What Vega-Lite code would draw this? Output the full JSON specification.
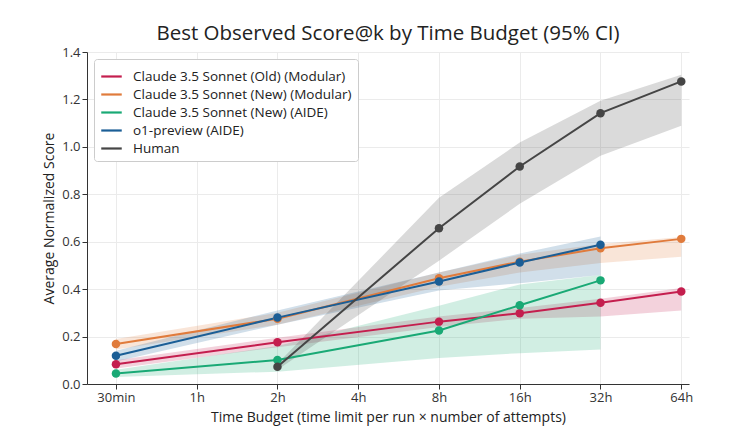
{
  "$schema": "https://vega.github.io/schema/vega-lite/v6.json",
  "width": 602,
  "height": 332,
  "autosize": {"type": "none"},
  "padding": {"left": 87, "top": 52, "right": 55, "bottom": 49},
  "background": "white",
  "title": {
    "text": "Best Observed Score@k by Time Budget (95% CI)",
    "font": "Open Sans",
    "fontSize": 20.5,
    "fontWeight": "normal",
    "color": "#222",
    "anchor": "middle",
    "offset": 2
  },
  "config": {
    "font": "Open Sans",
    "view": {"stroke": null},
    "axis": {
      "domainColor": "#333",
      "tickColor": "#333",
      "tickSize": 5,
      "labelColor": "#333",
      "labelFontSize": 13,
      "labelFont": "Open Sans",
      "titleFont": "Open Sans",
      "titleFontSize": 14,
      "titleFontWeight": "normal",
      "titleColor": "#222",
      "gridColor": "#ebebeb",
      "gridWidth": 1
    },
    "legend": {
      "labelFont": "Open Sans",
      "labelFontSize": 13.5,
      "labelColor": "#222",
      "labelLimit": 400
    }
  },
  "data": {
    "values": [
      {"series": "Claude 3.5 Sonnet (Old) (Modular)", "t": 0.5, "score": 0.083, "lo": 0.065, "hi": 0.100},
      {"series": "Claude 3.5 Sonnet (Old) (Modular)", "t": 2, "score": 0.176, "lo": 0.155, "hi": 0.195},
      {"series": "Claude 3.5 Sonnet (Old) (Modular)", "t": 8, "score": 0.263, "lo": 0.240, "hi": 0.285},
      {"series": "Claude 3.5 Sonnet (Old) (Modular)", "t": 16, "score": 0.298, "lo": 0.275, "hi": 0.320},
      {"series": "Claude 3.5 Sonnet (Old) (Modular)", "t": 32, "score": 0.343, "lo": 0.285, "hi": 0.360},
      {"series": "Claude 3.5 Sonnet (Old) (Modular)", "t": 64, "score": 0.390, "lo": 0.310, "hi": 0.405},
      {"series": "Claude 3.5 Sonnet (New) (Modular)", "t": 0.5, "score": 0.169, "lo": 0.145, "hi": 0.190},
      {"series": "Claude 3.5 Sonnet (New) (Modular)", "t": 2, "score": 0.275, "lo": 0.250, "hi": 0.300},
      {"series": "Claude 3.5 Sonnet (New) (Modular)", "t": 8, "score": 0.446, "lo": 0.410, "hi": 0.470},
      {"series": "Claude 3.5 Sonnet (New) (Modular)", "t": 16, "score": 0.516, "lo": 0.470, "hi": 0.545},
      {"series": "Claude 3.5 Sonnet (New) (Modular)", "t": 32, "score": 0.572, "lo": 0.510, "hi": 0.590},
      {"series": "Claude 3.5 Sonnet (New) (Modular)", "t": 64, "score": 0.612, "lo": 0.537, "hi": 0.620},
      {"series": "Claude 3.5 Sonnet (New) (AIDE)", "t": 0.5, "score": 0.044, "lo": 0.030, "hi": 0.060},
      {"series": "Claude 3.5 Sonnet (New) (AIDE)", "t": 2, "score": 0.101, "lo": 0.052, "hi": 0.160},
      {"series": "Claude 3.5 Sonnet (New) (AIDE)", "t": 8, "score": 0.226, "lo": 0.110, "hi": 0.330},
      {"series": "Claude 3.5 Sonnet (New) (AIDE)", "t": 16, "score": 0.332, "lo": 0.130, "hi": 0.420},
      {"series": "Claude 3.5 Sonnet (New) (AIDE)", "t": 32, "score": 0.437, "lo": 0.146, "hi": 0.460},
      {"series": "o1-preview (AIDE)", "t": 0.5, "score": 0.119, "lo": 0.095, "hi": 0.140},
      {"series": "o1-preview (AIDE)", "t": 2, "score": 0.280, "lo": 0.250, "hi": 0.310},
      {"series": "o1-preview (AIDE)", "t": 8, "score": 0.432, "lo": 0.394, "hi": 0.470},
      {"series": "o1-preview (AIDE)", "t": 16, "score": 0.512, "lo": 0.425, "hi": 0.550},
      {"series": "o1-preview (AIDE)", "t": 32, "score": 0.587, "lo": 0.460, "hi": 0.622},
      {"series": "Human", "t": 2, "score": 0.073, "lo": 0.060, "hi": 0.085},
      {"series": "Human", "t": 8, "score": 0.657, "lo": 0.520, "hi": 0.785},
      {"series": "Human", "t": 16, "score": 0.917, "lo": 0.760, "hi": 1.018},
      {"series": "Human", "t": 32, "score": 1.142, "lo": 0.962, "hi": 1.194},
      {"series": "Human", "t": 64, "score": 1.276, "lo": 1.089, "hi": 1.304}
    ]
  },
  "encoding": {
    "x": {
      "field": "t",
      "type": "quantitative",
      "scale": {"type": "log", "base": 2, "domain": [0.39, 68.4], "nice": false},
      "axis": {
        "title": "Time Budget (time limit per run × number of attempts)",
        "values": [0.5, 1, 2, 4, 8, 16, 32, 64],
        "labelExpr": "datum.value == 0.5 ? '30min' : datum.value + 'h'",
        "grid": true,
        "titlePadding": 6
      }
    },
    "color": {
      "field": "series",
      "type": "nominal",
      "scale": {
        "domain": ["Claude 3.5 Sonnet (Old) (Modular)", "Claude 3.5 Sonnet (New) (Modular)", "Claude 3.5 Sonnet (New) (AIDE)", "o1-preview (AIDE)", "Human"],
        "range": ["#c41e4e", "#e07b3c", "#19a975", "#1b5e96", "#454545"]
      },
      "legend": {
        "title": null,
        "orient": "top-left",
        "offset": 7,
        "padding": 6,
        "fillColor": "white",
        "strokeColor": "#cccccc",
        "cornerRadius": 3,
        "symbolType": "stroke",
        "symbolStrokeWidth": 2.2,
        "symbolSize": 420,
        "symbolOpacity": 1,
        "rowPadding": 0,
        "labelOffset": 10
      }
    }
  },
  "layer": [
    {
      "mark": {"type": "area", "opacity": 0.2},
      "encoding": {
        "y": {
          "field": "lo",
          "type": "quantitative",
          "scale": {"domain": [0, 1.4], "nice": false},
          "axis": {
            "title": "Average Normalized Score",
            "values": [0, 0.2, 0.4, 0.6, 0.8, 1.0, 1.2, 1.4],
            "format": ".1f",
            "grid": true,
            "titlePadding": 5
          }
        },
        "y2": {"field": "hi"}
      }
    },
    {
      "mark": {"type": "line", "strokeWidth": 2},
      "encoding": {
        "y": {"field": "score", "type": "quantitative"}
      }
    },
    {
      "mark": {"type": "point", "filled": true, "opacity": 1, "size": 72},
      "encoding": {
        "y": {"field": "score", "type": "quantitative"}
      }
    }
  ]
}
